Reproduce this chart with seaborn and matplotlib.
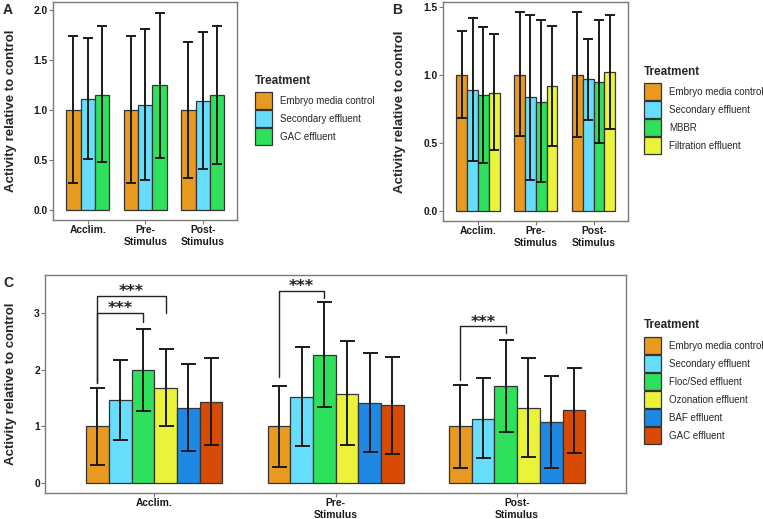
import numpy as np
import pandas as pd
import seaborn as sns
import matplotlib.pyplot as plt
from matplotlib.patches import Patch

phases = ["Acclim.", "Pre-\nStimulus", "Post-\nStimulus"]

# panel A
a_groups = ["Embryo media control", "Secondary effluent", "GAC effluent"]
a_mean = [[1.00, 1.00, 1.00], [1.11, 1.05, 1.09], [1.15, 1.25, 1.15]]
a_low = [[0.27, 0.27, 0.32], [0.51, 0.30, 0.41], [0.48, 0.52, 0.46]]
a_high = [[1.74, 1.74, 1.68], [1.72, 1.81, 1.78], [1.84, 1.97, 1.84]]

# panel B
b_groups = ["Embryo media control", "Secondary effluent", "MBBR", "Filtration effluent"]
b_mean = [[1.00, 1.00, 1.00], [0.89, 0.84, 0.97], [0.85, 0.80, 0.95], [0.87, 0.92, 1.02]]
b_low = [[0.68, 0.55, 0.54], [0.37, 0.23, 0.67], [0.35, 0.21, 0.50], [0.45, 0.48, 0.60]]
b_high = [[1.32, 1.46, 1.46], [1.42, 1.44, 1.26], [1.35, 1.40, 1.40], [1.30, 1.36, 1.44]]

# panel C
c_groups = ["Embryo media control", "Secondary effluent", "Floc/Sed effluent",
            "Ozonation effluent", "BAF effluent", "GAC effluent"]
c_mean = [[1.00, 1.00, 1.00], [1.47, 1.52, 1.14], [2.00, 2.25, 1.71],
          [1.68, 1.57, 1.33], [1.33, 1.42, 1.07], [1.43, 1.37, 1.29]]
c_low = [[0.32, 0.29, 0.27], [0.77, 0.66, 0.44], [1.28, 1.34, 0.91],
         [1.00, 0.67, 0.46], [0.57, 0.55, 0.27], [0.67, 0.51, 0.54]]
c_high = [[1.68, 1.72, 1.73], [2.17, 2.39, 1.86], [2.71, 3.19, 2.53],
          [2.36, 2.50, 2.20], [2.10, 2.29, 1.88], [2.20, 2.23, 2.03]]

colors = {"Embryo media control": "#E79A1F", "Secondary effluent": "#66DDFB",
          "GAC effluent": "#2EE05C", "MBBR": "#2EE05C",
          "Filtration effluent": "#EAF23A", "Floc/Sed effluent": "#2EE05C",
          "Ozonation effluent": "#EAF23A", "BAF effluent": "#1E88E2"}
colors_c = dict(colors)
colors_c["GAC effluent"] = "#D84B05"

sns.set_style("white")
plt.rcParams['font.family'] = ['Liberation Sans', 'DejaVu Sans']

fig = plt.figure(figsize=(7.63, 5.19), dpi=100)
ax_a = fig.add_axes([0.0699, 0.5761, 0.2411, 0.4191])
ax_b = fig.add_axes([0.5810, 0.5742, 0.2425, 0.4216])
ax_c = fig.add_axes([0.0594, 0.0507, 0.7611, 0.4200])

EDGE = "#333333"


def panel(ax, groups, mean, low, high, pal, cap, ylim, yticks, fmt, labx):
    rows = []
    for g, m in zip(groups, mean):
        for p, v in zip(phases, m):
            rows.append({"phase": p, "treatment": g, "value": v})
    df = pd.DataFrame(rows)
    sns.barplot(data=df, x="phase", y="value", hue="treatment", order=phases,
                hue_order=groups, palette=pal, width=0.75, saturation=1,
                edgecolor=EDGE, linewidth=0.9, errorbar=None, legend=False, ax=ax)
    centers = []
    for cont, m, lo, hi in zip(ax.containers, mean, low, high):
        xs = [b.get_x() + b.get_width() / 2 for b in cont]
        centers.append(xs)
        m, lo, hi = np.array(m), np.array(lo), np.array(hi)
        ax.errorbar(xs, m, yerr=[m - lo, hi - m], fmt="none", ecolor="#1a1a1a",
                    elinewidth=1.4, capsize=cap, capthick=1.4, zorder=5)
    ax.set_xlim(-0.6, 2.6)
    ax.set_ylim(*ylim)
    ax.set_yticks(yticks)
    ax.set_yticklabels([fmt.format(t) for t in yticks])
    ax.set_xlabel("")
    ax.set_ylabel("Activity relative to control", fontsize=9.5, fontweight="bold")
    ax.yaxis.set_label_coords(labx, 0.5)
    for s in ax.spines.values():
        s.set_visible(True)
        s.set_color("#7a7a7a")
        s.set_linewidth(1.0)
    ax.tick_params(axis="both", direction="out", length=2.7, width=0.8,
                   color="#7a7a7a", labelsize=7.4, pad=1.2, labelcolor="#1a1a1a",
                   bottom=True, left=True)
    for t in ax.get_xticklabels() + ax.get_yticklabels():
        t.set_fontweight("bold")
    return centers


def legend(groups, pal, key_xy, title_y):
    x, y = key_xy
    fig.text(x / 763, 1 - title_y / 519, "Treatment", ha="left", va="center",
             fontsize=8.5, fontweight="bold")
    handles = [Patch(facecolor=pal[g], edgecolor=EDGE, linewidth=0.9) for g in groups]
    fig.legend(handles, groups, loc="upper left",
               bbox_to_anchor=(x / 763, 1 - y / 519), frameon=False, fontsize=7,
               handlelength=1.75, handleheight=2.31, labelspacing=0.1,
               handletextpad=0.8, borderpad=0, borderaxespad=0)


panel(ax_a, a_groups, a_mean, a_low, a_high, colors, 3.6, (-0.0985, 2.07),
      [0, 0.5, 1.0, 1.5, 2.0], "{:.1f}", -0.197)
panel(ax_b, b_groups, b_mean, b_low, b_high, colors, 3.6, (-0.073, 1.533),
      [0, 0.5, 1.0, 1.5], "{:.1f}", -0.203)
cx = panel(ax_c, c_groups, c_mean, c_low, c_high, colors_c, 5.4, (-0.165, 3.67),
           [0, 1, 2, 3], "{:.0f}", -0.0496)

legend(a_groups, colors, (255, 92.3), 81)
legend(b_groups, colors, (644, 83.3), 71.7)
legend(c_groups, colors_c, (644, 337.3), 325.5)

# significance brackets in panel C: (phase, target group, bar level, right drop, left drop, star y)
brackets = [(0, 2, 3.00, 2.83, 1.76, 3.11), (0, 3, 3.30, 3.00, 1.76, 3.41),
            (1, 2, 3.39, 3.26, 1.87, 3.50), (2, 2, 2.76, 2.64, 1.82, 2.86)]
for p, g, yb, yr, yl, ys in brackets:
    x0, x1 = cx[0][p], cx[g][p]
    ax_c.plot([x0, x0, x1, x1], [yl, yb, yb, yr], color="#222222", lw=1.0, zorder=6)
    ax_c.text((x0 + x1) / 2, ys - 0.11, "***", ha="center", va="baseline",
              fontsize=11.5, fontweight="bold", color="#222222",
              family="DejaVu Sans")

for lab, x, y in [("A", 3, 3), ("B", 392, 3), ("C", 3, 276)]:
    fig.text(x / 763, 1 - y / 519, lab, ha="left", va="top",
             fontsize=10, fontweight="bold")

plt.savefig("out.png", dpi=100)
